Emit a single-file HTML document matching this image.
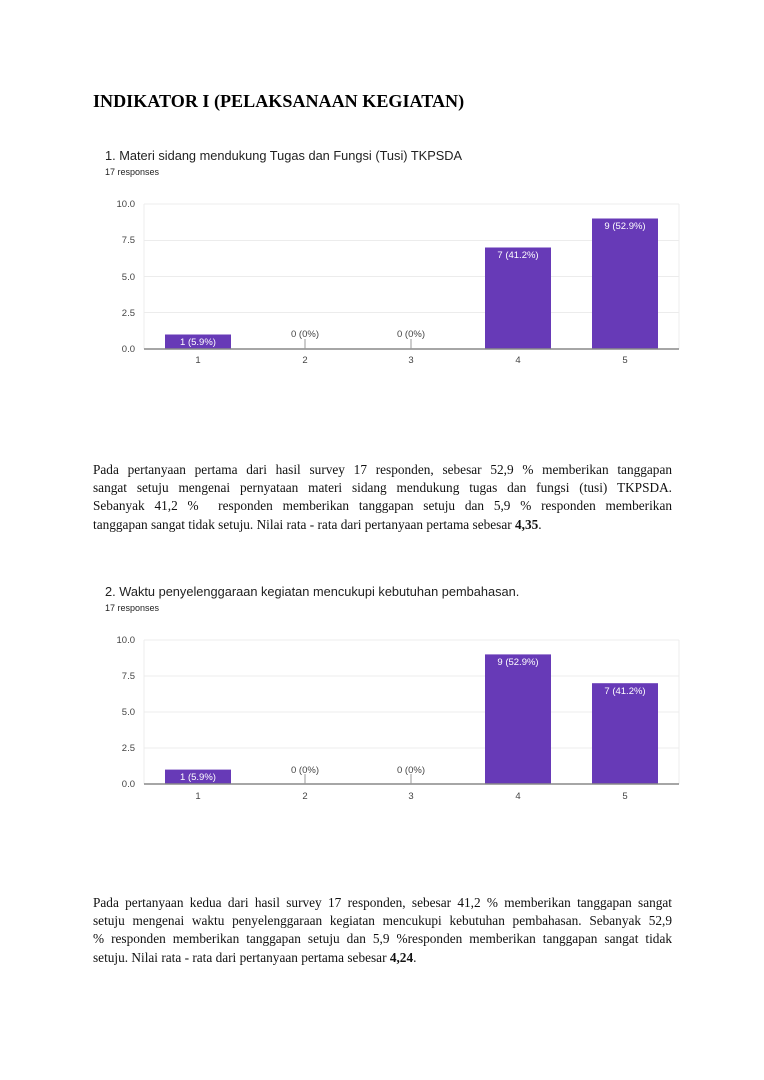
<!DOCTYPE html>
<html><head><meta charset="utf-8"><style>
body{margin:0;background:#fff;width:764px;height:1080px;position:relative;overflow:hidden}
.t{position:absolute;font-family:"Liberation Serif",serif;font-size:13.3px;color:#111;left:93px;width:579px}
.l{height:18.2px;line-height:18.2px;text-align:justify;text-align-last:justify;white-space:nowrap}
.last{text-align-last:left}
h1{position:absolute;left:93px;top:91px;margin:0;font-family:"Liberation Serif",serif;font-size:18.1px;font-weight:bold;color:#000}
svg{position:absolute;left:0;top:0}
svg text{font-family:"Liberation Sans",sans-serif}
</style></head><body>
<h1>INDIKATOR I (PELAKSANAAN KEGIATAN)</h1>
<svg width="764" height="1080">
<g>
<text x="105" y="160" font-size="12.8" fill="#222">1. Materi sidang mendukung Tugas dan Fungsi (Tusi) TKPSDA</text>
<text x="105" y="175" font-size="9" fill="#222">17 responses</text>
<g stroke="#ececec" stroke-width="1">
<line x1="144" x2="679" y1="204" y2="204"/><line x1="144" x2="679" y1="240.5" y2="240.5"/><line x1="144" x2="679" y1="276.5" y2="276.5"/><line x1="144" x2="679" y1="312.5" y2="312.5"/><line x1="144" x2="144" y1="204" y2="349"/><line x1="679" x2="679" y1="204" y2="349"/>
</g>
<g font-size="9.5" fill="#444" text-anchor="end">
<text x="135" y="207">10.0</text><text x="135" y="243">7.5</text><text x="135" y="280">5.0</text><text x="135" y="316">2.5</text><text x="135" y="352">0.0</text>
</g>
<g fill="#673ab7"><rect x="165" y="334.5" width="66" height="14.5"/><rect x="485" y="247.5" width="66" height="101.5"/><rect x="592" y="218.5" width="66" height="130.5"/></g>
<line x1="144" x2="679" y1="349" y2="349" stroke="#888" stroke-width="1.5"/>
<line x1="305" x2="305" y1="339" y2="349" stroke="#999"/><line x1="411" x2="411" y1="339" y2="349" stroke="#999"/>
<g font-size="9.5" text-anchor="middle"><text x="198" y="345" fill="#fff">1 (5.9%)</text><text x="305" y="337" fill="#444">0 (0%)</text><text x="411" y="337" fill="#444">0 (0%)</text><text x="518" y="258" fill="#fff">7 (41.2%)</text><text x="625" y="229" fill="#fff">9 (52.9%)</text></g>
<g font-size="9.5" fill="#444" text-anchor="middle"><text x="198" y="363">1</text><text x="305" y="363">2</text><text x="411" y="363">3</text><text x="518" y="363">4</text><text x="625" y="363">5</text></g>
</g>
<g>
<text x="105" y="596" font-size="12.8" fill="#222">2. Waktu penyelenggaraan kegiatan mencukupi kebutuhan pembahasan.</text>
<text x="105" y="611" font-size="9" fill="#222">17 responses</text>
<g stroke="#ececec" stroke-width="1">
<line x1="144" x2="679" y1="640" y2="640"/><line x1="144" x2="679" y1="676" y2="676"/><line x1="144" x2="679" y1="712" y2="712"/><line x1="144" x2="679" y1="748" y2="748"/><line x1="144" x2="144" y1="640" y2="784"/><line x1="679" x2="679" y1="640" y2="784"/>
</g>
<g font-size="9.5" fill="#444" text-anchor="end">
<text x="135" y="643">10.0</text><text x="135" y="679">7.5</text><text x="135" y="715">5.0</text><text x="135" y="751">2.5</text><text x="135" y="787">0.0</text>
</g>
<g fill="#673ab7"><rect x="165" y="769.6" width="66" height="14.4"/><rect x="485" y="654.4" width="66" height="129.6"/><rect x="592" y="683.2" width="66" height="100.8"/></g>
<line x1="144" x2="679" y1="784" y2="784" stroke="#888" stroke-width="1.5"/>
<line x1="305" x2="305" y1="774" y2="784" stroke="#999"/><line x1="411" x2="411" y1="774" y2="784" stroke="#999"/>
<g font-size="9.5" text-anchor="middle"><text x="198" y="780" fill="#fff">1 (5.9%)</text><text x="305" y="773" fill="#444">0 (0%)</text><text x="411" y="773" fill="#444">0 (0%)</text><text x="518" y="665" fill="#fff">9 (52.9%)</text><text x="625" y="694" fill="#fff">7 (41.2%)</text></g>
<g font-size="9.5" fill="#444" text-anchor="middle"><text x="198" y="799">1</text><text x="305" y="799">2</text><text x="411" y="799">3</text><text x="518" y="799">4</text><text x="625" y="799">5</text></g>
</g>
</svg>
<div class="t" style="top:461px">
<div class="l">Pada pertanyaan pertama dari hasil survey 17 responden, sebesar 52,9 % memberikan tanggapan</div>
<div class="l">sangat setuju mengenai pernyataan materi sidang mendukung tugas dan fungsi (tusi) TKPSDA.</div>
<div class="l">Sebanyak 41,2 % &nbsp;responden memberikan tanggapan setuju dan 5,9 % responden memberikan</div>
<div class="l last">tanggapan sangat tidak setuju. Nilai rata - rata dari pertanyaan pertama sebesar <b>4,35</b>.</div>
</div>
<div class="t" style="top:894px">
<div class="l">Pada pertanyaan kedua dari hasil survey 17 responden, sebesar 41,2 % memberikan tanggapan sangat</div>
<div class="l">setuju mengenai waktu penyelenggaraan kegiatan mencukupi kebutuhan pembahasan. Sebanyak 52,9</div>
<div class="l">% responden memberikan tanggapan setuju dan 5,9 %responden memberikan tanggapan sangat tidak</div>
<div class="l last">setuju. Nilai rata - rata dari pertanyaan pertama sebesar <b>4,24</b>.</div>
</div>
</body></html>
